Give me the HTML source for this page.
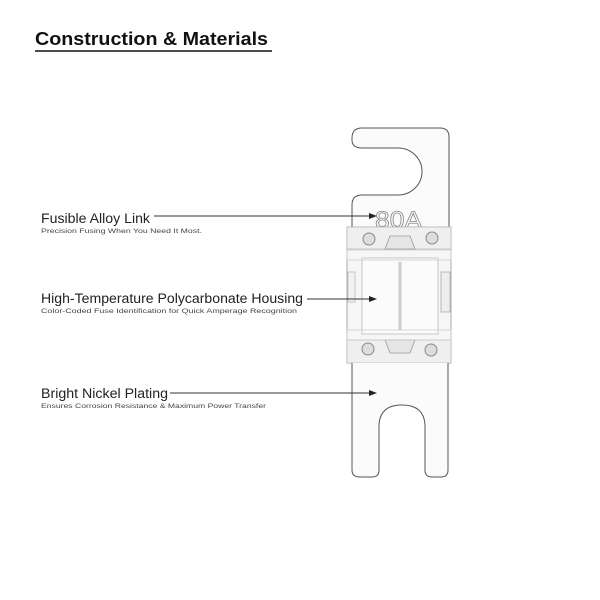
<!DOCTYPE html>
<html><head><meta charset="utf-8"><style>
html,body{margin:0;padding:0;background:#fff;}
svg{display:block;}
text{font-family:"Liberation Sans",sans-serif;}
</style></head><body>
<svg width="600" height="600" viewBox="0 0 600 600" xmlns="http://www.w3.org/2000/svg">
<rect width="600" height="600" fill="#fff"/>
<text x="35" y="45" font-size="18.5" font-weight="bold" fill="#111" textLength="233" lengthAdjust="spacingAndGlyphs">Construction &amp; Materials</text>
<line x1="35" y1="51" x2="272" y2="51" stroke="#111" stroke-width="1.5"/>

<!-- fuse upper tab (slot opens to left) -->
<path d="M352,227 L352,205 Q352,195 362,195 L398,195 A24,23.5 0 0 0 398,148 L362,148 Q352,148 352,140 L352,138 Q352,128 362,128 L440,128 Q449,128 449,137 L449,227" fill="#fbfbfb" stroke="#555" stroke-width="1"/>
<text x="375" y="228" font-size="24" fill="#fff" stroke="#888" stroke-width="0.8" textLength="47" lengthAdjust="spacingAndGlyphs">80A</text>

<!-- housing -->
<rect x="347" y="227" width="104" height="136" fill="#f6f6f6" stroke="#aaa" stroke-width="1"/>
<rect x="347" y="227" width="104" height="22" fill="#efefef" stroke="#bbb" stroke-width="0.8"/>
<rect x="347" y="340" width="104" height="23" fill="#efefef" stroke="#bbb" stroke-width="0.8"/>
<path d="M385,249 L390,236 L410,236 L415,249 Z" fill="#e6e6e6" stroke="#999" stroke-width="0.8"/>
<path d="M385,340 L390,353 L410,353 L415,340 Z" fill="#e6e6e6" stroke="#999" stroke-width="0.8"/>
<circle cx="369" cy="239" r="6" fill="#ddd" stroke="#888"/>
<circle cx="432" cy="238" r="6" fill="#ddd" stroke="#888"/>
<circle cx="368" cy="349" r="6" fill="#ddd" stroke="#888"/>
<circle cx="431" cy="350" r="6" fill="#ddd" stroke="#888"/>
<rect x="362" y="258" width="76" height="76" fill="#fbfbfb" stroke="#bbb" stroke-width="0.8"/>
<line x1="400" y1="262" x2="400" y2="330" stroke="#ccc" stroke-width="3"/>
<rect x="347" y="250" width="104" height="10" fill="none" stroke="#ccc" stroke-width="0.8"/>
<rect x="347" y="330" width="104" height="10" fill="none" stroke="#ccc" stroke-width="0.8"/>
<rect x="441" y="272" width="9" height="40" fill="#eee" stroke="#aaa" stroke-width="0.8"/>
<rect x="348" y="272" width="7" height="30" fill="#f2f2f2" stroke="#bbb" stroke-width="0.8"/>

<!-- lower tab -->
<path d="M352,363 L352,470 Q352,477 360,477 L372,477 Q379,477 379,470 L379,425 Q380,405 402,405 Q424,405 425,425 L425,470 Q425,477 432,477 L441,477 Q448,477 448,470 L448,363" fill="#fbfbfb" stroke="#555" stroke-width="1"/>

<!-- labels -->
<text x="41" y="223" font-size="13.5" fill="#222" textLength="109" lengthAdjust="spacingAndGlyphs">Fusible Alloy Link</text>
<text x="41" y="233" font-size="6.8" fill="#444" textLength="161" lengthAdjust="spacingAndGlyphs">Precision Fusing When You Need It Most.</text>
<line x1="154" y1="216" x2="370" y2="216" stroke="#333" stroke-width="1"/>
<polygon points="377,216 369,213 369,219" fill="#222"/>

<text x="41" y="303" font-size="13.5" fill="#222" textLength="262" lengthAdjust="spacingAndGlyphs">High-Temperature Polycarbonate Housing</text>
<text x="41" y="313" font-size="6.8" fill="#444" textLength="256" lengthAdjust="spacingAndGlyphs">Color-Coded Fuse Identification for Quick Amperage Recognition</text>
<line x1="307" y1="299" x2="370" y2="299" stroke="#333" stroke-width="1"/>
<polygon points="377,299 369,296 369,302" fill="#222"/>

<text x="41" y="398" font-size="13.5" fill="#222" textLength="127" lengthAdjust="spacingAndGlyphs">Bright Nickel Plating</text>
<text x="41" y="408" font-size="6.8" fill="#444" textLength="225" lengthAdjust="spacingAndGlyphs">Ensures Corrosion Resistance &amp; Maximum Power Transfer</text>
<line x1="170" y1="393" x2="370" y2="393" stroke="#333" stroke-width="1"/>
<polygon points="377,393 369,390 369,396" fill="#222"/>
</svg>
</body></html>
